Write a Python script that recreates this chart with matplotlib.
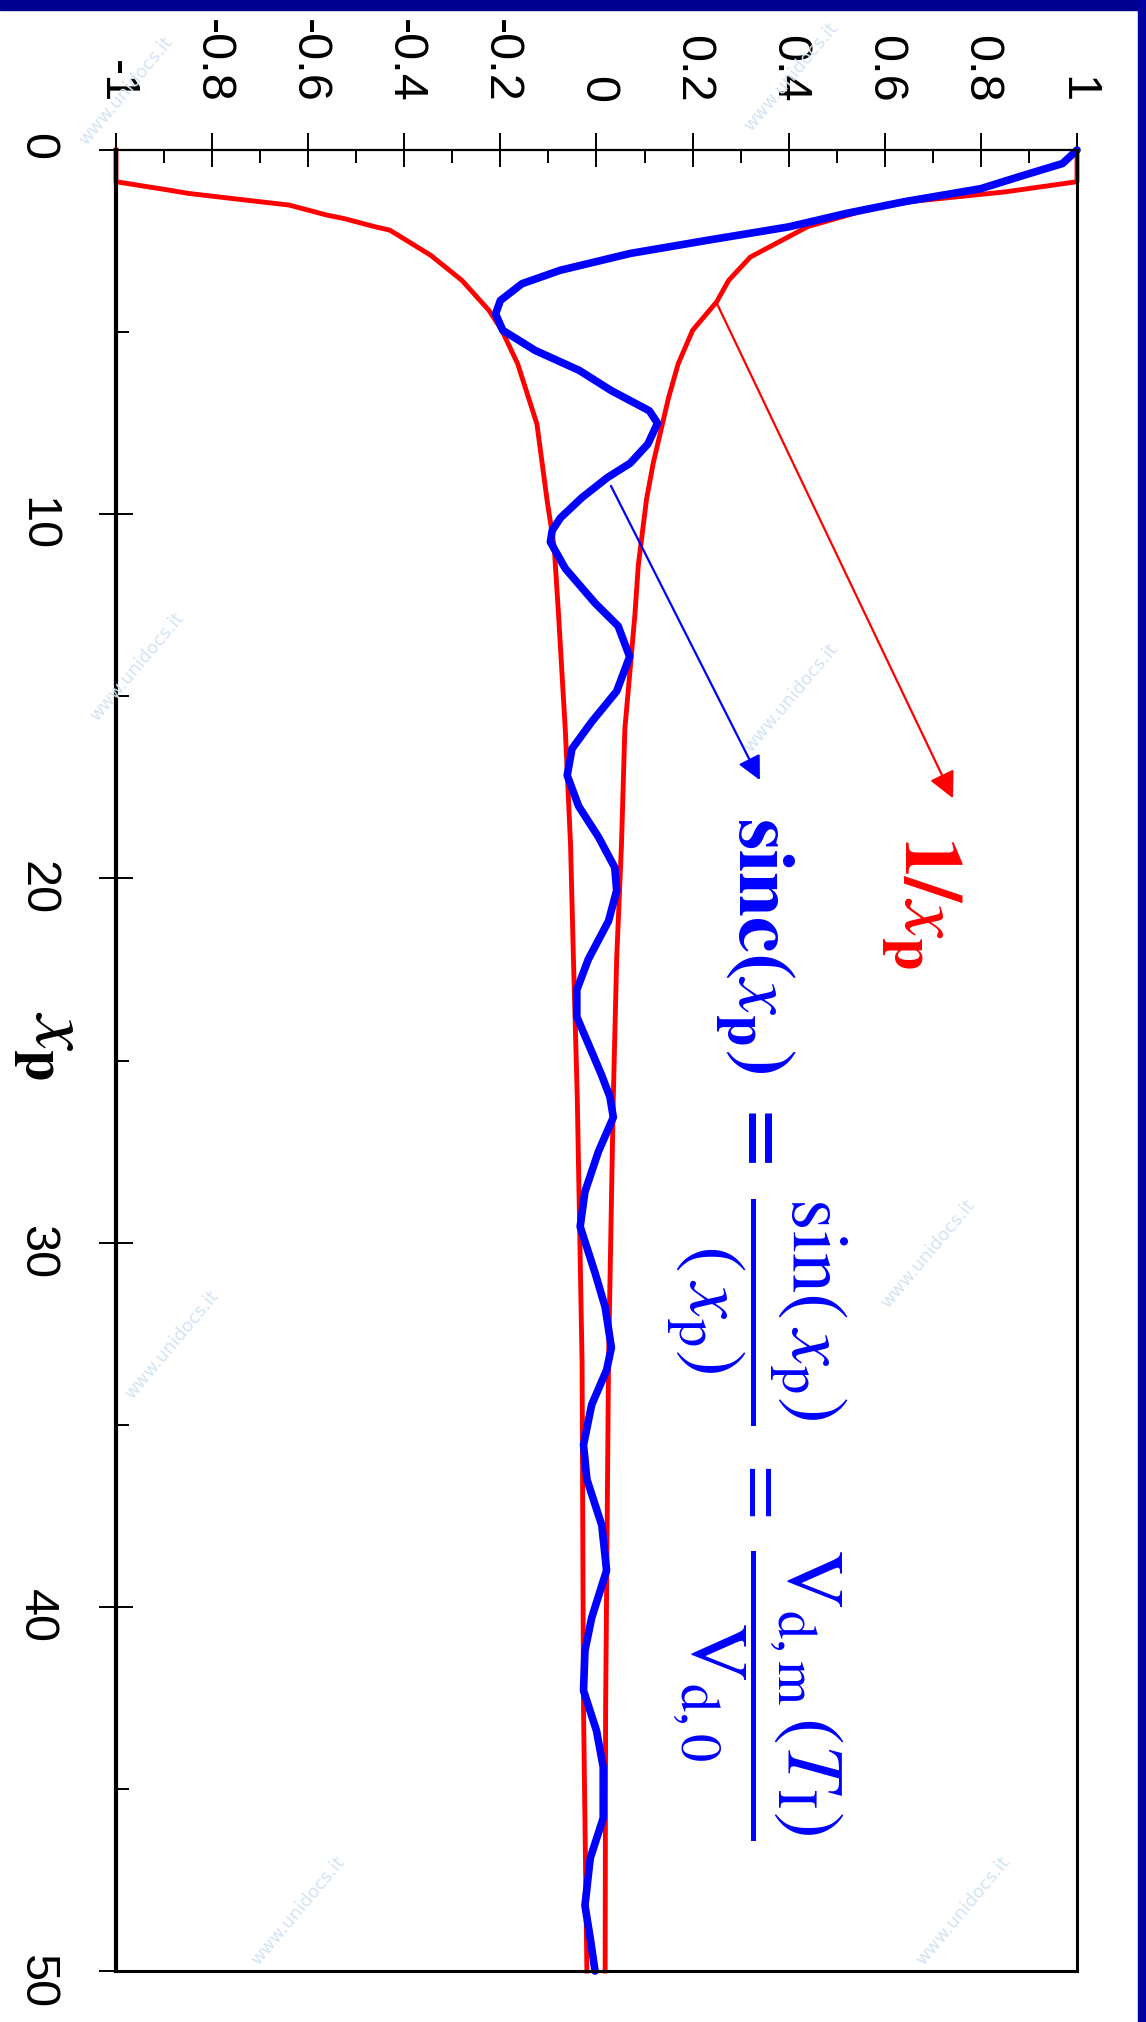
import numpy as np
import matplotlib
matplotlib.use("Agg")
import matplotlib.pyplot as plt
from matplotlib.patches import Rectangle

plt.rcParams['mathtext.fontset'] = 'stix'
plt.rcParams['axes.unicode_minus'] = False

# red envelope 1/x_p, upper branch (x_p, value)
xp_up = [0, 0.87, 1.15, 1.42, 1.65, 2.1, 2.94, 3.58, 4.17, 4.95, 5.87, 6.8, 7.7,
         8.6, 9.6, 11.4, 12.75, 15.9, 19.07, 22.2, 26.0, 33.3, 42.8, 50]
inv_up = [1.0, 1.0, 0.85, 0.65, 0.56, 0.44, 0.32, 0.275, 0.25, 0.20, 0.17, 0.15, 0.134,
          0.118, 0.104, 0.087, 0.080, 0.059, 0.052, 0.042, 0.035, 0.025, 0.019, 0.018]

# red envelope, lower branch
xp_lo = [0, 0.87, 1.10, 1.19, 1.42, 1.51, 1.79, 1.88, 2.11, 2.2, 2.89, 3.58, 4.40, 4.95,
         5.87, 7.52, 9.6, 10.9, 12.75, 15.9, 19.07, 22.2, 26.0, 33.3, 42.8, 50]
inv_lo = [-1.0, -1.0, -0.89, -0.85, -0.70, -0.64, -0.56, -0.526, -0.46, -0.43, -0.345, -0.28,
          -0.224, -0.197, -0.164, -0.124, -0.103, -0.088, -0.079, -0.065, -0.054, -0.048,
          -0.040, -0.030, -0.027, -0.020]

# sinc(x_p)
xp_s = [0, 0.37, 0.73, 1.06, 1.42, 1.74, 2.11, 2.48, 2.84, 3.3, 3.67, 4.13, 4.5, 4.95, 5.5,
        6.05, 6.6, 7.16, 7.5, 8.07, 8.6, 8.99, 9.54, 10.1, 10.44, 10.76, 11.49, 12.44, 13.07,
        13.91, 14.86, 15.70, 16.44, 17.17, 18.02, 18.86, 19.70, 20.33, 21.17, 22.22, 23.06,
        23.80, 24.54, 25.38, 26.0, 26.56, 27.5, 28.6, 29.56, 30.83, 31.77, 32.88, 33.5, 34.45,
        35.55, 36.5, 37.76, 39.0, 40.3, 41.2, 42.3, 43.4, 44.4, 45.8, 46.9, 48.2, 49.1, 50]
sinc_s = [1.0, 0.97, 0.88, 0.80, 0.64, 0.52, 0.40, 0.23, 0.07, -0.075, -0.155, -0.20, -0.21,
          -0.195, -0.128, -0.036, 0.03, 0.11, 0.127, 0.107, 0.07, 0.023, -0.03, -0.075, -0.092,
          -0.096, -0.065, -0.003, 0.045, 0.069, 0.042, -0.01, -0.051, -0.061, -0.037, 0.004,
          0.038, 0.042, 0.025, -0.017, -0.041, -0.041, -0.017, 0.010, 0.028, 0.035, 0.004,
          -0.024, -0.034, -0.003, 0.018, 0.031, 0.021, -0.010, -0.027, -0.020, 0.011, 0.021,
          -0.010, -0.024, -0.027, 0.0, 0.014, 0.014, -0.013, -0.024, -0.013, -0.003]

val_ticks = [-1, -0.8, -0.6, -0.4, -0.2, 0, 0.2, 0.4, 0.6, 0.8, 1]
val_labels = ['-1', '-0.8', '-0.6', '-0.4', '-0.2', '0', '0.2', '0.4', '0.6', '0.8', '1']
val_minor = [-0.9, -0.7, -0.5, -0.3, -0.1, 0.1, 0.3, 0.5, 0.7, 0.9]
xp_ticks = [0, 10, 20, 30, 40, 50]
xp_labels = ['0', '10', '20', '30', '40', '50']
xp_minor = [5, 15, 25, 35, 45]

fig = plt.figure(figsize=(11.46, 20.22), dpi=100)
ax = fig.add_axes([0.1012, 0.0252, 0.8386, 0.9006])

ax.plot(inv_up, xp_up, color='#ff0000', lw=3.5, clip_on=False, solid_joinstyle='round')
ax.plot(inv_lo, xp_lo, color='#ff0000', lw=3.5, clip_on=False, solid_joinstyle='round')
ax.plot(sinc_s, xp_s, color='#0000ff', lw=5.5, clip_on=False, solid_joinstyle='round',
        solid_capstyle='round')

ax.set_xlim(-1, 1)
ax.set_ylim(50, 0)

ax.xaxis.tick_top()
ax.set_xticks(val_ticks)
ax.set_xticklabels(val_labels, rotation=-90, fontsize=35, family='Liberation Sans')
ax.set_xticks(val_minor, minor=True)
ax.tick_params(axis='x', which='major', direction='inout', length=24, width=1.4, pad=22)
ax.tick_params(axis='x', which='minor', direction='in', length=9, width=1.4)

ax.set_yticks(xp_ticks)
ax.set_yticklabels(xp_labels, rotation=-90, fontsize=35, family='Liberation Sans')
ax.set_yticks(xp_minor, minor=True)
ax.tick_params(axis='y', which='major', direction='inout', length=24, width=1.4, pad=29)
ax.tick_params(axis='y', which='minor', direction='in', length=9, width=1.4)

for s in ax.spines.values():
    s.set_linewidth(2.2)
ax.spines['left'].set_linewidth(3)
ax.spines['top'].set_linewidth(1.6)

# arrows and labels
ax.annotate('', xy=(0.742, 17.8), xytext=(0.249, 4.17),
            arrowprops=dict(arrowstyle='-|>', color='#ff0000', lw=1.6,
                            mutation_scale=40, shrinkA=0, shrinkB=0))
ax.annotate('', xy=(0.34, 17.3), xytext=(0.03, 9.22),
            arrowprops=dict(arrowstyle='-|>', color='#0000ff', lw=1.6,
                            mutation_scale=36, shrinkA=0, shrinkB=0))

ax.text(0.64, 18.8, r'$\mathbf{1/}x_\mathbf{p}$', color='#ff0000', fontsize=60,
        rotation=-90, rotation_mode='anchor', ha='left', va='baseline')
ax.text(0.295, 18.3,
        r'$\mathbf{sinc(}x_\mathbf{p}\mathbf{)}\ \mathbf{=}\ \dfrac{\sin(\,x_{\rm p})}{(\,x_{\rm p})}'
        r'\ =\ \dfrac{{\rm V}_{\rm d,m}\,(T_{\rm I})}{{\rm V}_{\rm d,0}}$',
        color='#0000ff', fontsize=58, rotation=-90, rotation_mode='anchor',
        ha='left', va='baseline')

fig.text(0.043, 0.483, r'$x_\mathbf{p}$', fontsize=58, rotation=-90,
         ha='center', va='center')

# faint watermark
wm = [(0.11, 0.955), (0.69, 0.962), (0.12, 0.67), (0.69, 0.655),
      (0.15, 0.335), (0.81, 0.38), (0.26, 0.055), (0.84, 0.055)]
for (wx, wy) in wm:
    fig.text(wx, wy, 'www.unidocs.it', fontsize=13, color='#d4e4f4', rotation=50,
             ha='center', va='center', zorder=0)

# navy frame of the slide
fig.patches.append(Rectangle((0, 1 - 10 / 2022), 1, 10 / 2022, transform=fig.transFigure,
                             color='#00008f', zorder=5))
fig.patches.append(Rectangle((1 - 8 / 1146, 0), 8 / 1146, 1, transform=fig.transFigure,
                             color='#0000a0', zorder=5))

fig.savefig('out.png', dpi=100)
